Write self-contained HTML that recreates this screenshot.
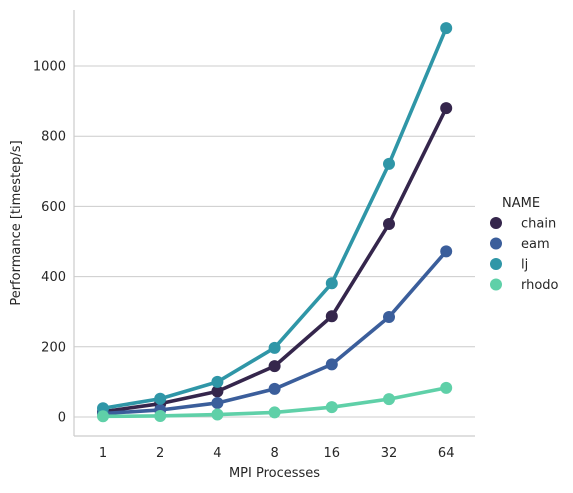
<!DOCTYPE html>
<html><head><meta charset="utf-8"><style>
body{margin:0;background:#fff;font-family:"DejaVu Sans","Liberation Sans",sans-serif;}
svg text{fill:#262626;font-size:13px;font-family:"DejaVu Sans","Liberation Sans",sans-serif;}
</style></head><body>
<svg id="chart" width="573" height="489" xmlns="http://www.w3.org/2000/svg">
<g id="grid"></g><g id="axes"></g><g id="series"></g><g id="legend"></g>
</svg>
<script>
const categories = ["1","2","4","8","16","32","64"];
const seriesNames = ["chain","eam","lj","rhodo"];
const chainValues = [15,38,73,145,287,550,880];
const eamValues = [10,20,40,80,150,285,472];
const ljValues = [25,52,100,197,381,721,1108];
const rhodoValues = [2,3,7,13,28,51,83];
const yTicks = [0,200,400,600,800,1000];
const colors = ["#35264c","#3b5e9b","#2f96a7","#5fd0a8"];
const allValues = [chainValues,eamValues,ljValues,rhodoValues];

const NS="http://www.w3.org/2000/svg";
const x0=74,x1=475,yTop=10,yBot=436;
function xs(i){return 103+i*57.2;}
function ys(v){return 417-v*0.351;}
function mk(tag,attrs,parent,txt){const e=document.createElementNS(NS,tag);for(const k in attrs)e.setAttribute(k,attrs[k]);if(txt!==undefined)e.textContent=txt;document.getElementById(parent).appendChild(e);return e;}

yTicks.forEach(t=>{
  const l=mk("line",{x1:x0,x2:x1,y1:ys(t),y2:ys(t),stroke:"#cccccc","stroke-width":1},"grid");
  
  
  const tx=mk("text",{x:x0-8,y:ys(t)+4.5,"text-anchor":"end"},"axes",String(t));
  
  
});
const sp1=mk("line",{x1:x0,x2:x0,y1:yTop,y2:yBot,stroke:"#cccccc","stroke-width":1.2},"axes");


const sp2=mk("line",{x1:x0,x2:x1,y1:yBot,y2:yBot,stroke:"#cccccc","stroke-width":1.2},"axes");


categories.forEach((c,i)=>{
  const t=mk("text",{x:xs(i),y:457,"text-anchor":"middle"},"axes",c);
  
  
});
const xt=mk("text",{x:274.5,y:477,"text-anchor":"middle"},"axes","MPI Processes");


const yt=mk("text",{x:20,y:223,"text-anchor":"middle",transform:"rotate(-90 20 223)"},"axes","Performance [timestep/s]");



allValues.forEach((vals,s)=>{
  const pts=vals.map((v,i)=>xs(i)+","+ys(v)).join(" ");
  const pl=mk("polyline",{points:pts,fill:"none",stroke:colors[s],"stroke-width":3.6,"stroke-linejoin":"round"},"series");
  
  
  vals.forEach((v,i)=>{
    const c=mk("circle",{cx:xs(i),cy:ys(v),r:6,fill:colors[s]},"series");
    
    
  });
});

const lt=mk("text",{x:502,y:207},"legend","NAME");


seriesNames.forEach((n,s)=>{
  const y=223+s*20.5;
  const c=mk("circle",{cx:496,cy:y,r:6,fill:colors[s]},"legend");
  
  
  const t=mk("text",{x:521,y:y+4.5},"legend",n);
  
  
});
</script>
</body></html>
